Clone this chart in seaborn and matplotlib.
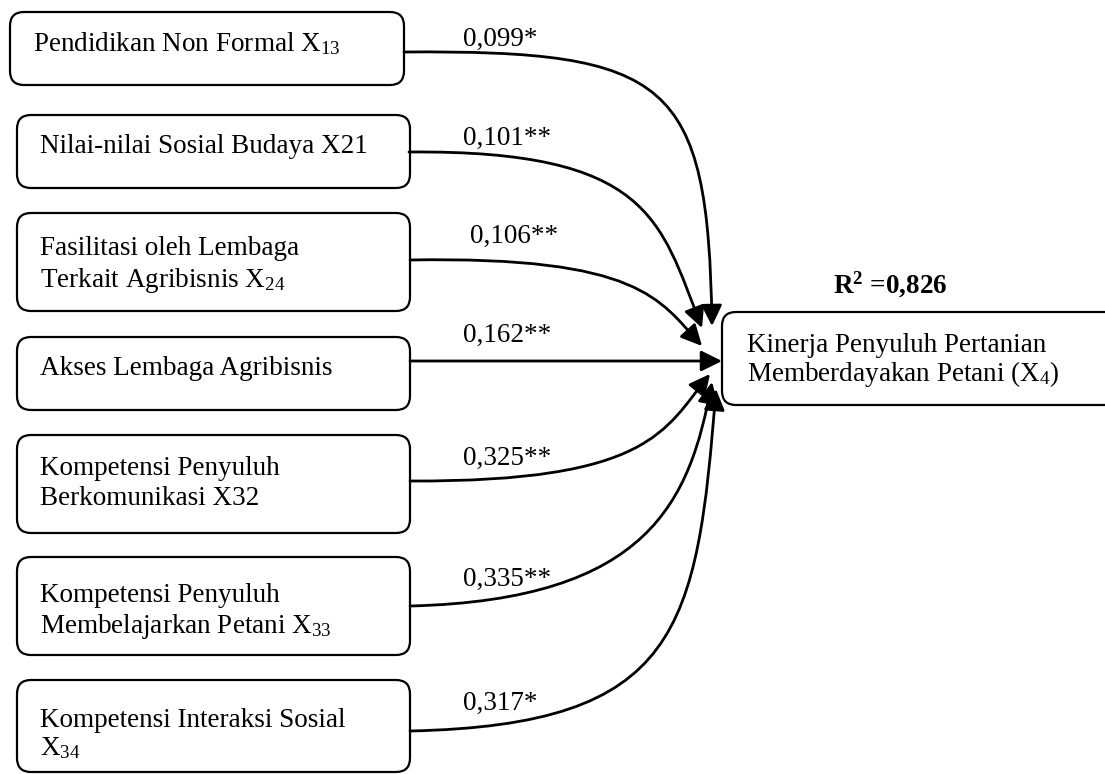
import matplotlib.pyplot as plt
import seaborn as sns
from matplotlib.patches import FancyBboxPatch, FancyArrowPatch
from matplotlib.path import Path

# Data
predictors = [
    ["Pendidikan Non Formal X$_{13}$"],
    ["Nilai-nilai Sosial Budaya X21"],
    ["Fasilitasi oleh Lembaga", "Terkait Agribisnis X$_{24}$"],
    ["Akses Lembaga Agribisnis"],
    ["Kompetensi Penyuluh", "Berkomunikasi X32"],
    ["Kompetensi Penyuluh", "Membelajarkan Petani X$_{33}$"],
    ["Kompetensi Interaksi Sosial", "X$_{34}$"],
]
coefs = ["0,099*", "0,101**", "0,106**", "0,162**", "0,325**", "0,335**", "0,317*"]
outcome = ["Kinerja Penyuluh Pertanian", "Memberdayakan Petani (X$_{4}$)"]
r_squared = "0,826"

# Layout (pixels)
box_left = [10, 17, 17, 17, 17, 17, 17]
box_right = [404, 410, 410, 410, 410, 410, 410]
box_top = [12, 115, 213, 337, 435, 557, 680]
box_bottom = [85, 188, 311, 410, 533, 655, 772]
text_base = [[51], [153], [255, 287], [375], [475, 505], [602, 633], [727, 755]]
text_x = [33, 40, 40, 40, 40, 40, 40]
label_x = [463, 463, 470, 463, 463, 463, 463]
label_base = [46, 145, 243, 342, 465, 586, 710]

# bezier control points: start, c1, c2, end
curves = [
    [(404, 52), (670, 50), (708, 80), (712, 326)],
    [(409, 152), (650, 150), (660, 220), (702, 328)],
    [(410, 260), (640, 256), (660, 300), (702, 346)],
    [(410, 361), (520, 361), (620, 361), (722, 361)],
    [(410, 481), (650, 482), (665, 430), (710, 374)],
    [(410, 606), (650, 600), (690, 500), (712, 382)],
    [(410, 731), (680, 725), (697, 630), (716, 389)],
]

sns.set_theme(style="white")
plt.rcParams["font.family"] = ["Liberation Serif", "DejaVu Serif"]
plt.rcParams["mathtext.fontset"] = "custom"
plt.rcParams["mathtext.rm"] = "Liberation Serif"
plt.rcParams["mathtext.it"] = "Liberation Serif:italic"
plt.rcParams["mathtext.bf"] = "Liberation Serif:bold"
plt.rcParams["text.color"] = "black"

fig = plt.figure(figsize=(11.05, 7.74), dpi=100)
ax = fig.add_axes([0, 0, 1, 1])
ax.set_xlim(0, 1105)
ax.set_ylim(774, 0)
ax.axis("off")

fs = 19.5

for i, lines in enumerate(predictors):
    box = FancyBboxPatch(
        (box_left[i], box_top[i]),
        box_right[i] - box_left[i],
        box_bottom[i] - box_top[i],
        boxstyle="round,pad=0,rounding_size=14",
        fc="white", ec="black", lw=1.6,
    )
    ax.add_patch(box)
    for line, yb in zip(lines, text_base[i]):
        ax.text(text_x[i], yb, line, fontsize=fs, va="baseline", ha="left",
                color="black")
    ax.text(label_x[i], label_base[i], coefs[i], fontsize=fs, va="baseline",
            ha="left", color="black")

    verts = curves[i]
    codes = [Path.MOVETO, Path.CURVE4, Path.CURVE4, Path.CURVE4]
    arrow = FancyArrowPatch(
        path=Path(verts, codes),
        arrowstyle="-|>,head_length=0.85,head_width=0.42",
        mutation_scale=15, lw=2, color="black",
    )
    ax.add_patch(arrow)

# outcome box
out_box = FancyBboxPatch(
    (722, 312), 420, 93,
    boxstyle="round,pad=0,rounding_size=14",
    fc="white", ec="black", lw=1.6,
)
ax.add_patch(out_box)
for line, yb in zip(outcome, [352, 381]):
    ax.text(747, yb, line, fontsize=fs, va="baseline", ha="left", color="black")
ax.text(833, 293, r"$\mathbf{R}^{\mathbf{2}}$ =" + r_squared, fontsize=fs,
        fontweight="bold", va="baseline", ha="left", color="black")

plt.savefig("out.png", dpi=100)
